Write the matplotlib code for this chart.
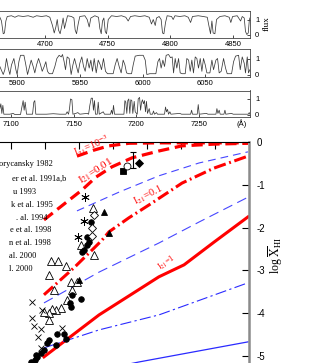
import matplotlib
matplotlib.use('Agg')
import matplotlib.pyplot as plt

W, H = 313, 363

# ---------------- spectra (wavelength in Angstrom, normalised flux) ----------------
spec1_wl = [4664.0, 4665.3, 4666.7, 4667.7, 4668.8, 4669.9, 4673.3, 4676.0, 4678.6, 4682.6,
            4686.6, 4690.6, 4693.3, 4697.3, 4701.2, 4703.9, 4706.0, 4707.4, 4708.7, 4709.8,
            4710.8, 4712.1, 4713.5, 4714.5, 4715.6, 4716.7, 4718.0, 4721.2, 4723.1, 4724.1,
            4725.2, 4726.5, 4727.8, 4731.8, 4733.7, 4735.3, 4736.6, 4739.8, 4742.7, 4743.8,
            4744.9, 4745.9, 4747.0, 4748.1, 4749.1, 4750.5, 4753.1, 4757.1, 4761.1, 4764.5,
            4766.4, 4768.3, 4771.7, 4775.7, 4779.7, 4783.2, 4785.0, 4786.4, 4788.0, 4789.0,
            4791.1, 4792.7, 4793.8, 4794.9, 4796.2, 4797.5, 4801.0, 4802.3, 4803.7, 4807.6,
            4811.6, 4814.3, 4816.2, 4817.7, 4822.3, 4826.3, 4829.5, 4831.0, 4832.1, 4833.2,
            4834.2, 4835.6, 4836.9, 4839.6, 4843.6, 4847.0, 4848.3, 4849.7, 4853.4, 4856.1,
            4857.4, 4859.0, 4860.0, 4861.1, 4862.2, 4863.0, 4863.5]
spec1_flux = [1.15, 0.9, 0.05, 0.1, 0.9, 1.2, 1.25, 1.15, 1.25, 1.2,
              1.25, 1.15, 1.25, 1.2, 1.25, 1.15, 0.6, 0.1, 0.5, 1.0,
              0.3, 0.05, 0.6, 1.1, 0.4, 0.8, 1.25, 1.2, 1.1, 0.3,
              0.05, 0.7, 1.2, 1.25, 1.0, 0.5, 1.1, 1.25, 1.15, 0.4,
              0.05, 0.9, 1.1, 0.2, 0.05, 1.0, 1.25, 1.2, 1.25, 1.15,
              0.9, 1.2, 1.25, 1.2, 1.25, 1.15, 0.7, 1.0, 0.6, 1.1,
              1.2, 1.0, 0.1, 0.05, 0.8, 1.25, 1.2, 1.0, 1.25, 1.2,
              1.25, 1.15, 0.8, 1.2, 1.25, 1.2, 1.15, 0.5, 0.05, 0.9,
              0.1, 0.05, 1.0, 1.2, 1.25, 1.15, 0.8, 1.2, 1.25, 0.9,
              1.2, 1.1, 0.2, 0.0, 0.1, 0.9, 1.1]

spec2_wl = [5886.0, 5888.7, 5890.0, 5891.3, 5892.7, 5894.0, 5895.3, 5897.2, 5898.8, 5899.8,
            5901.2, 5902.5, 5905.2, 5906.5, 5908.1, 5909.4, 5911.0, 5912.6, 5913.9, 5915.3,
            5916.9, 5918.5, 5919.8, 5921.4, 5922.7, 5924.0, 5925.4, 5928.0, 5929.9, 5931.5,
            5933.3, 5935.0, 5936.0, 5937.3, 5938.4, 5939.7, 5941.3, 5942.9, 5944.3, 5945.6,
            5947.2, 5948.5, 5949.8, 5951.4, 5952.8, 5954.1, 5955.7, 5957.3, 5958.6, 5959.9,
            5961.3, 5962.9, 5964.5, 5966.1, 5967.1, 5968.7, 5970.3, 5971.9, 5976.4, 5978.0,
            5979.6, 5981.2, 5982.8, 5984.4, 5985.8, 5987.1, 5988.7, 5991.1, 5992.4, 5994.0,
            5997.2, 6000.4, 6002.0, 6003.3, 6005.7, 6010.5, 6012.1, 6013.4, 6014.7, 6016.1,
            6017.4, 6018.7, 6020.6, 6022.2, 6023.5, 6024.6, 6025.9, 6027.2, 6028.6, 6029.9,
            6031.5, 6033.9, 6035.2, 6036.6, 6037.9, 6039.2, 6040.5, 6041.9, 6043.2, 6044.5,
            6045.9, 6047.2, 6048.5, 6049.9, 6051.2, 6053.6, 6055.2, 6056.5, 6058.4, 6059.7,
            6061.0, 6062.6, 6064.5, 6066.1, 6067.4, 6070.9, 6072.5, 6074.1, 6076.5, 6077.8,
            6079.4, 6081.0, 6082.0, 6083.4, 6084.4, 6085.5]
spec2_flux = [0.5, 0.0, 0.3, 1.0, 0.4, 0.0, 0.6, 1.0, 0.3, 0.0,
              0.8, 1.2, 1.2, 0.7, 0.0, 0.4, 0.9, 0.5, 0.1, 0.6,
              1.0, 0.6, 0.2, 0.5, 0.8, 0.2, 0.05, 0.05, 0.5, 1.0,
              1.2, 1.1, 1.25, 0.8, 0.3, 1.1, 1.0, 0.0, 0.6, 1.0,
              0.5, 0.1, 0.7, 1.1, 0.5, 0.2, 1.0, 0.4, 0.9, 0.2,
              1.0, 0.1, 0.9, 0.6, 0.3, 1.0, 0.2, 0.05, 0.05, 0.6,
              1.0, 0.5, 0.1, 0.9, 0.6, 0.1, 0.05, 0.05, 0.6, 1.15,
              1.2, 1.2, 0.9, 0.0, 0.05, 0.05, 0.8, 1.0, 0.4, 0.9,
              0.5, 1.2, 1.25, 1.05, 1.1, 0.1, 1.0, 0.4, 1.0, 0.1,
              0.05, 0.05, 1.0, 0.9, 0.2, 0.9, 0.1, 1.1, 1.0, 0.4,
              1.0, 0.2, 1.0, 0.6, 0.1, 0.1, 0.9, 0.3, 0.9, 1.0,
              0.1, 0.2, 1.0, 0.4, 0.05, 0.05, 0.8, 1.15, 1.2, 0.3,
              1.1, 0.7, 0.1, 1.1, 0.1, 0.3]

spec3_wl = [7091.0, 7091.8, 7092.6, 7093.4, 7094.2, 7099.0, 7101.6, 7103.0, 7107.5, 7108.6,
            7109.6, 7110.4, 7111.2, 7112.3, 7117.1, 7118.1, 7118.9, 7119.7, 7128.2, 7133.6,
            7138.9, 7143.7, 7144.7, 7145.8, 7146.6, 7147.4, 7148.5, 7149.3, 7151.6, 7153.2,
            7154.8, 7160.7, 7161.8, 7162.8, 7163.9, 7164.9, 7165.7, 7166.5, 7167.3, 7168.7,
            7169.5, 7170.3, 7173.5, 7174.5, 7179.3, 7180.1, 7180.9, 7181.7, 7182.5, 7186.8,
            7190.0, 7190.8, 7191.5, 7192.3, 7193.1, 7193.9, 7194.7, 7195.5, 7196.3, 7197.1,
            7198.2, 7199.0, 7200.6, 7201.4, 7202.5, 7203.3, 7204.1, 7204.8, 7205.6, 7206.4,
            7207.2, 7208.0, 7208.8, 7210.2, 7211.0, 7212.8, 7213.6, 7214.4, 7216.0, 7216.8,
            7222.4, 7223.2, 7224.0, 7224.8, 7225.6, 7226.7, 7227.5, 7234.6, 7236.0, 7243.2,
            7244.0, 7244.7, 7248.5, 7249.3, 7250.1, 7255.9, 7257.0, 7263.4, 7264.2, 7265.0,
            7266.0, 7266.8, 7269.8, 7270.6, 7271.3, 7275.9, 7277.2, 7289.2, 7290.0, 7290.5]
spec3_flux = [0.4, 0.7, 0.1, 0.6, 0.05, 0.05, 0.1, 0.03, 0.03, 0.5,
              0.9, 0.3, 0.8, 0.05, 0.05, 0.8, 0.9, 0.05, 0.05, 0.08,
              0.05, 0.05, 0.2, 0.05, 0.4, 1.0, 0.95, 0.05, 0.1, 0.15,
              0.05, 0.1, 0.05, 0.6, 1.05, 1.05, 0.3, 0.9, 0.05, 0.05,
              0.8, 0.05, 0.2, 0.05, 0.05, 0.3, 0.05, 0.6, 0.05, 0.05,
              0.05, 0.9, 0.8, 0.1, 0.9, 1.0, 0.1, 0.95, 0.9, 0.1,
              0.85, 0.2, 0.05, 1.0, 1.1, 0.3, 0.8, 0.95, 0.7, 0.9,
              0.2, 0.85, 0.1, 0.4, 0.05, 0.05, 0.25, 0.05, 0.15, 0.05,
              0.05, 0.5, 0.2, 0.35, 0.05, 0.2, 0.05, 0.1, 0.05, 0.05,
              0.3, 0.05, 0.05, 0.65, 0.05, 0.1, 0.05, 0.05, 0.4, 0.1,
              0.3, 0.05, 0.05, 0.3, 0.05, 0.1, 0.05, 0.05, 0.15, 0.05]

spec1_ticks = [4700, 4750, 4800, 4850]
spec2_ticks = [5900, 5950, 6000, 6050]
spec3_ticks = [7100, 7150, 7200, 7250]
flux_ticks = [0, 1]

# ---------------- main panel: model curves (redshift, log mean neutral fraction) -------------
c_1e3_z = [3.94, 4.44, 4.88, 5.47, 6.35, 8.97]
c_1e3_y = [-0.33, -0.19, -0.09, -0.03, -0.02, -0.02]
c_001_z = [2.97, 3.56, 4.09, 4.50, 4.97, 5.56, 6.35, 7.03, 7.97, 8.97]
c_001_y = [-1.82, -1.45, -1.12, -0.82, -0.58, -0.37, -0.21, -0.09, -0.05, -0.03]
c_01_z = [2.97, 3.85, 4.44, 4.68, 4.88, 5.47, 6.06, 7.03, 7.97, 8.97]
c_01_y = [-3.57, -2.94, -2.48, -2.29, -2.10, -1.77, -1.47, -0.96, -0.61, -0.33]
c_1_z = [2.97, 4.59, 6.35, 7.09, 7.97, 8.97]
c_1_y = [-5.02, -4.04, -3.15, -2.87, -2.34, -1.75]
b_dash1_z = [3.94, 5.18, 6.35, 7.53, 8.97]
b_dash1_y = [-1.61, -1.17, -0.79, -0.49, -0.23]
b_dash2_z = [2.97, 4.59, 6.35, 7.53, 8.97]
b_dash2_y = [-3.76, -3.04, -2.36, -1.87, -1.29]
b_dd_z = [2.97, 4.59, 6.35, 8.97]
b_dd_y = [-4.81, -4.39, -4.04, -3.29]
b_solid_z = [2.97, 5.76, 8.97]
b_solid_y = [-5.60, -5.14, -4.67]

# ---------------- observational points ----------------
fcirc_z = [4.35, 4.24, 4.24, 4.29, 4.15, 4.09, 3.79, 4.06, 3.74, 3.76, 3.35, 3.56, 3.62,
           3.12, 3.06, 3.32, 2.97, 2.88, 2.74, 2.76, 2.71, 2.59]
fcirc_y = [-1.87, -2.22, -2.41, -2.34, -2.52, -2.57, -3.57, -3.67, -3.76, -3.86, -4.49, -4.49,
           -4.60, -4.63, -4.70, -4.74, -4.86, -4.93, -4.98, -5.02, -5.09, -5.14]
otri_z = [4.41, 4.06, 4.44, 3.18, 3.38, 3.62, 3.12, 3.76, 3.94, 3.79, 3.26, 3.65, 3.47,
          3.32, 3.21, 3.12, 3.12, 2.97]
otri_y = [-1.54, -2.41, -2.64, -2.78, -2.78, -2.90, -3.11, -3.27, -3.27, -3.46, -3.46, -3.69,
          -3.88, -3.93, -3.90, -4.00, -4.16, -3.97]
cross_z = [2.62, 2.91, 2.62, 2.68, 2.88, 2.79, 3.50, 2.88]
cross_y = [-3.74, -3.93, -4.11, -4.30, -4.37, -4.56, -4.35, -4.81]
aster_z = [4.18, 4.15, 3.97]
aster_y = [-1.29, -1.85, -2.22]
odiam_z = [4.44, 4.38, 4.38]
odiam_y = [-1.71, -2.01, -2.20]
ftri_z = [4.74, 4.88, 4.00]
ftri_y = [-1.64, -2.13, -3.22]
fsq_z, fsq_y = [5.29], [-0.68]
ocirc_z, ocirc_y = [5.41], [-0.56]
fdiam_z, fdiam_y = [5.76], [-0.49]
err_z, err_y, err_dy = [5.59], [-0.42], [0.19]

z_ticks = [2, 3, 4, 5, 6, 7, 8]
logx_ticks = [0, -1, -2, -3, -4, -5]
logx_labels = ['0', '-1', '-2', '-3', '-4', '-5']

legend_texts = ['orycansky 1982', 'er et al. 1991a,b', 'u 1993', 'k et al. 1995',
                '. al. 1994', 'e et al. 1998', 'n et al. 1998', 'al. 2000', 'l. 2000']

# ====================================================================================
plt.rcParams['font.family'] = ['Liberation Sans', 'DejaVu Sans']
plt.rcParams['mathtext.fontset'] = 'stix'

fig = plt.figure(figsize=(W / 100, H / 100), dpi=100)


def box(left, top, right, bottom):
    return [left / W, 1 - bottom / H, (right - left) / W, (bottom - top) / H]


PX_PER_A = 1.2533
spectra = [
    (spec1_wl, spec1_flux, spec1_ticks, 4863.6, (10.5, 37.5), (-0.2, 1.6)),
    (spec2_wl, spec2_flux, spec2_ticks, 6085.6, (48.5, 76.5), (-0.125, 1.625)),
    (spec3_wl, spec3_flux, spec3_ticks, 7290.6, (90.5, 117.0), (-0.125, 1.53)),
]
for wl, fl, ticks, xr, (top, bot), ylim in spectra:
    ax = fig.add_axes(box(-10, top, 250, bot))
    ax.plot(wl, fl, color='#3a3a3a', lw=0.55)
    ax.set_xlim(xr - 260 / PX_PER_A, xr)
    ax.set_ylim(*ylim)
    ax.set_xticks(ticks)
    ax.set_xticklabels([str(t) for t in ticks])
    ax.yaxis.tick_right()
    ax.set_yticks(flux_ticks)
    ax.set_yticklabels([str(t) for t in flux_ticks])
    ax.tick_params(axis='x', direction='in', length=2.5, width=0.5, labelsize=5.5, pad=2.8)
    ax.tick_params(axis='y', direction='in', length=2.5, width=0.5, labelsize=5.5, pad=3.6)
    for s in ax.spines.values():
        s.set_linewidth(0.6)
        s.set_color('#444444')

fig.text(267 / W, 1 - 24 / H, 'flux', rotation=90, ha='center', va='center',
         fontsize=6.5, family='Liberation Serif')
fig.text(242 / W, 1 - 124 / H, '(Å)', ha='center', va='center', fontsize=5.5)

# ---------------- main panel ----------------
PX_PER_Z = 34.0
PX_PER_DEX = 42.8
ax = fig.add_axes(box(249 - 7.5 * PX_PER_Z, 142, 249, 142 + 5.3 * PX_PER_DEX))
ax.set_xlim(1.5, 9)
ax.set_ylim(-5.3, 0)

red = '#ff0000'
ax.plot(c_1e3_z, c_1e3_y, color=red, lw=2.3, dashes=(3.5, 1.8), zorder=2)
ax.plot(c_001_z, c_001_y, color=red, lw=2.3, dashes=(3.5, 1.8), zorder=2)
ax.plot(c_01_z, c_01_y, color=red, lw=2.2, dashes=(4, 1.2, 0.6, 1.2), zorder=2)
ax.plot(c_1_z, c_1_y, color=red, lw=2.2, zorder=2)
ax.plot(b_dash1_z, b_dash1_y, color='#4646ff', lw=0.8, dashes=(7, 4.5), zorder=2)
ax.plot(b_dash2_z, b_dash2_y, color='#4646ff', lw=0.8, dashes=(9, 5), zorder=2)
ax.plot(b_dd_z, b_dd_y, color='#2a2aff', lw=0.8, dashes=(10, 3, 2, 3), zorder=2)
ax.plot(b_solid_z, b_solid_y, color='#2a2aff', lw=0.9, zorder=2)

mk = dict(ls='none', color='black', mew=0.6, zorder=3)
ax.plot(otri_z, otri_y, marker='^', ms=5.5, mfc='white', **mk)
ax.plot(cross_z, cross_y, marker='x', ms=5, **mk)
ax.plot(fcirc_z, fcirc_y, marker='o', ms=4, mfc='black', **mk)
ax.plot(aster_z, aster_y, marker=(6, 2, 0), ms=6, **mk)
ax.plot(odiam_z, odiam_y, marker='D', ms=4, mfc='white', **mk)
ax.plot(ftri_z, ftri_y, marker='^', ms=5, mfc='black', **mk)
ax.plot(fsq_z, fsq_y, marker='s', ms=4.5, mfc='black', **mk)
ax.plot(ocirc_z, ocirc_y, marker='o', ms=5, mfc='white', **mk)
ax.plot(fdiam_z, fdiam_y, marker='D', ms=4.5, mfc='black', **mk)
ax.errorbar(err_z, err_y, yerr=err_dy, fmt='none', ecolor='black', elinewidth=0.8,
            capsize=2.5, capthick=0.8, zorder=3)

ax.spines['left'].set_visible(False)
ax.spines['bottom'].set_visible(False)
ax.spines['top'].set_linewidth(0.8)
ax.spines['right'].set_linewidth(1.8)
ax.spines['right'].set_color('#8a8a8a')
ax.xaxis.tick_top()
ax.set_xticks(z_ticks)
ax.tick_params(axis='x', direction='in', length=5, width=0.8, labeltop=False)
ax.yaxis.tick_right()
ax.set_yticks(logx_ticks)
ax.set_yticklabels(logx_labels)
ax.tick_params(axis='y', direction='in', length=5, width=0.8, labelsize=7, pad=5.5)

fig.text(276 / W, 1 - 255 / H, r'log $\overline{\mathrm{X}}_{\mathrm{HI}}$', rotation=90,
         ha='center', va='center', fontsize=8.5, family='Liberation Serif')

# curve labels
lab = dict(color=red, family='Liberation Serif', ha='center', va='center')
fig.text(92 / W, 1 - 146 / H, r'I$_{21}$=10$^{-3}$', rotation=22, fontsize=7.5, **lab)
fig.text(96 / W, 1 - 171 / H, r'I$_{21}$=0.01', rotation=33, fontsize=8, **lab)
fig.text(148 / W, 1 - 195 / H, r'I$_{21}$=0.1', rotation=27, fontsize=7.5, **lab)
fig.text(167 / W, 1 - 263 / H, r'I$_{21}$=1', rotation=35, fontsize=6, **lab)

# legend text (markers cropped off to the left)
leg_right = [53, 66, 36, 53, 47, 51, 51, 36, 33]
leg_y = [164, 179, 192, 205, 218, 230, 243, 256, 269]
for t, xr_, yy in zip(legend_texts, leg_right, leg_y):
    fig.text(xr_ / W, 1 - yy / H, t, ha='right', va='center', fontsize=6,
             family='Liberation Serif')

fig.savefig('out.png', dpi=100)
